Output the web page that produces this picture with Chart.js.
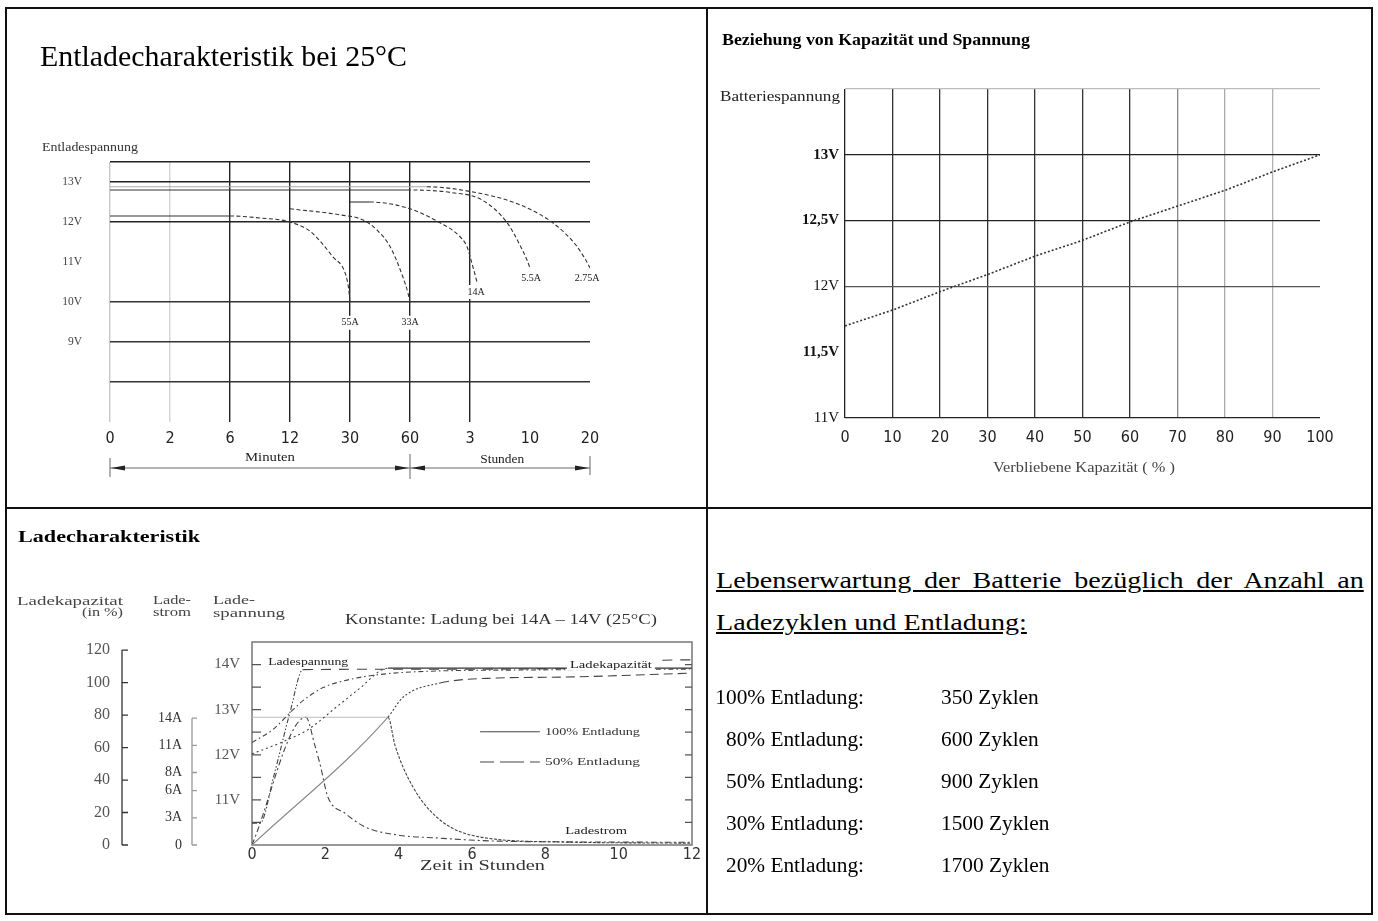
<!DOCTYPE html>
<html>
<head>
<meta charset="utf-8">
<script src="https://cdn.jsdelivr.net/npm/chart.js@4.4.1/dist/chart.umd.min.js"></script>
<style>
body{margin:0;background:#fff;width:1378px;height:921px;position:relative;overflow:hidden;font-family:'Liberation Serif','Times New Roman',serif;color:#000}
.ln{position:absolute;background:#111}
.t{position:absolute;white-space:nowrap;transform-origin:0 0;line-height:1}
canvas{position:absolute}
.hd{position:absolute;left:716px;font-size:24px;line-height:42px;text-decoration:underline;white-space:nowrap;transform-origin:0 0}
.row{position:absolute;font-size:21.33px;line-height:42px;white-space:nowrap}
</style>
</head>
<body>
<!-- table frame -->
<div class="ln" style="left:5px;top:7px;width:1368px;height:2px"></div>
<div class="ln" style="left:5px;top:913px;width:1368px;height:2px"></div>
<div class="ln" style="left:5px;top:7px;width:2px;height:908px"></div>
<div class="ln" style="left:1371px;top:7px;width:2px;height:908px"></div>
<div class="ln" style="left:706px;top:7px;width:2px;height:908px"></div>
<div class="ln" style="left:5px;top:507px;width:1368px;height:2px"></div>

<canvas id="c1" width="697" height="496" style="left:8px;top:10px;width:697px;height:496px"></canvas>
<canvas id="c2" width="660" height="496" style="left:710px;top:10px;width:660px;height:496px"></canvas>
<canvas id="c3" width="697" height="402" style="left:8px;top:510px;width:697px;height:402px"></canvas>

<!-- texts -->
<div class="t" data-w="367" style="left:40px;top:42px;font-size:29px">Entladecharakteristik bei 25°C</div>
<div class="t" data-w="96" style="left:42px;top:141px;font-size:12px;color:#333">Entladespannung</div>

<div class="t" data-w="308" style="left:722px;top:32px;font-size:16px;font-weight:bold">Beziehung von Kapazität und Spannung</div>
<div class="t" data-w="120" style="left:720px;top:89px;font-size:15px;color:#222">Batteriespannung</div>
<div class="t" data-w="182" style="left:993px;top:460px;font-size:15px;color:#444">Verbliebene Kapazität ( % )</div>

<div class="t" data-w="182" style="left:18px;top:529px;font-size:16px;font-weight:bold">Ladecharakteristik</div>
<div class="t" data-w="106" style="left:17px;top:594px;font-size:13px;color:#444">Ladekapazitat</div>
<div class="t" data-w="41" style="left:82px;top:605px;font-size:13px;color:#444">(in %)</div>
<div class="t" data-w="38" style="left:153px;top:593px;font-size:13px;color:#444">Lade-</div>
<div class="t" data-w="38" style="left:153px;top:605px;font-size:13px;color:#444">strom</div>
<div class="t" data-w="42" style="left:213px;top:593px;font-size:13px;color:#444">Lade-</div>
<div class="t" data-w="72" style="left:213px;top:606px;font-size:13px;color:#444">spannung</div>
<div class="t" data-w="312" style="left:345px;top:613px;font-size:14px;color:#333">Konstante: Ladung bei 14A – 14V (25°C)</div>
<div class="t" data-w="125" style="left:420px;top:859px;font-size:14px;color:#333">Zeit in Stunden</div>

<div class="hd" id="hd1" style="top:559px;text-align:justify;text-align-last:justify;white-space:normal">Lebenserwartung der Batterie bezüglich der Anzahl an</div>
<div class="hd" id="hd2" style="top:601px">Ladezyklen und Entladung:</div>
<div id="cycles"></div>

<script>
// ---- Entladecharakteristik (top left): x = tick index, y = volts
const dischargeTimeLabels = ['0', '2', '6', '12', '30', '60', '3', '10', '20'];
const dischargeVoltTicks = [9, 10, 11, 12, 13];
const dischargeVoltLabels = ['9V', '10V', '11V', '12V', '13V'];
const curve55A = [[0, 12.15], [2, 12.15], [2.5, 12.1], [3, 12.0], [3.35, 11.75], [3.72, 11.12], [3.92, 10.72], [3.98, 10.3], [4, 9.98]];
const curve33A = [[3, 12.33], [3.83, 12.18], [4.22, 12.05], [4.45, 11.8], [4.67, 11.38], [4.88, 10.63], [4.97, 10.2], [5, 9.98]];
const curve14A = [[4, 12.5], [4.33, 12.5], [5, 12.33], [5.5, 11.98], [5.8, 11.68], [5.95, 11.38], [6.03, 10.98], [6.12, 10.48]];
const curve5A5 = [[0, 12.8], [4.95, 12.8], [5.67, 12.74], [6.2, 12.55], [6.62, 11.98], [6.83, 11.43], [6.95, 11.05], [7, 10.85]];
const curve2A75 = [[0, 12.88], [5.28, 12.88], [6.05, 12.75], [6.8, 12.45], [7.38, 11.98], [7.75, 11.45], [7.93, 11.05], [8, 10.85]];
const dischargeCurves = [curve55A, curve33A, curve14A, curve5A5, curve2A75];
const dischargeCurveNames = ['55A', '33A', '14A', '5.5A', '2.75A'];

// ---- Beziehung von Kapazitaet und Spannung (top right)
const remainingCapacity = [0, 10, 20, 30, 40, 50, 60, 70, 80, 90, 100];
const restVoltage = [11.70, 11.82, 11.96, 12.09, 12.23, 12.35, 12.49, 12.61, 12.73, 12.87, 13.0];
const restVoltTicks = [11, 11.5, 12, 12.5, 13];
const restVoltLabels = ['11V', '11,5V', '12V', '12,5V', '13V'];
const restVoltBold = [11.5, 12.5, 13];

// ---- Ladecharakteristik (bottom left): x = hours
const chargeVoltTicks = [11, 12, 13, 14];
const chargeVoltLabels = ['11V', '12V', '13V', '14V'];
const chargeCurrentTicks = [0, 3, 6, 8, 11, 14];
const chargeCurrentLabels = ['0', '3A', '6A', '8A', '11A', '14A'];
const chargeCapTicks = [0, 20, 40, 60, 80, 100, 120];
const chargeVolt100 = [[0, 12.02], [0.79, 12.27], [1.53, 12.56], [2.35, 13.09], [2.89, 13.44], [3.71, 13.92], [12, 13.92]];
const chargeVolt50 = [[0, 12.27], [0.57, 12.56], [1.12, 13.0], [1.39, 13.2], [1.94, 13.49], [2.67, 13.67], [3.49, 13.78], [4.77, 13.85], [7.58, 13.88], [11.95, 13.9]];
const chargeCap100 = [[0, 0], [3.71, 78.8], [4.12, 91], [5.13, 99.7], [6.68, 102.8], [8.48, 103.4], [11.95, 105.8]];
const chargeCap50 = [[0, 13.5], [0.22, 13.5], [0.6, 43], [1.04, 82], [1.39, 108], [3.71, 108.2], [8.1, 108.5], [10.9, 112], [11.2, 113.8], [12, 114]];
const chargeCur100 = [[0, 14.1], [3.71, 14.1], [3.9, 11], [4.39, 6.4], [5.13, 2.76], [6.22, 0.88], [8.48, 0.33], [11.95, 0.2]];
const chargeCur50 = [[0, 0], [1.47, 14.1], [1.72, 10.9], [1.85, 9.0], [2.07, 5.3], [2.54, 3.5], [3.08, 2.0], [3.98, 1.1], [5.07, 0.77], [6.5, 0.45], [8.5, 0.35], [12, 0.3]];

// ---- Lebenserwartung (bottom right)
const depthOfDischarge = ['100%', '80%', '50%', '30%', '20%'];
const cycleCounts = [350, 600, 900, 1500, 1700];

Chart.defaults.font.family = "'Liberation Serif', 'Times New Roman', serif";
Chart.defaults.color = '#333';
Chart.defaults.animation = false;
const SANS = "'DejaVu Sans Condensed', 'DejaVu Sans', sans-serif";
const NONE = 'rgba(0,0,0,0)';

const pts = arr => arr.map(([x, y]) => ({x, y}));
const tickList = vals => axis => { axis.ticks = vals.map(v => ({value: v})); };
const labelFrom = (vals, labels) => v => { const i = vals.indexOf(v); return i < 0 ? '' : labels[i]; };
const baseOpts = {
    responsive: false,
    events: [],
    plugins: {legend: {display: false}, tooltip: {enabled: false}}
};

function fitText(ctx, text, x, y, width){
    const w = ctx.measureText(text).width;
    ctx.save();
    ctx.translate(x, y);
    ctx.scale(width / w, 1);
    ctx.fillText(text, 0, 0);
    ctx.restore();
}

function arrowHead(ctx, tipX, y, dir){
    ctx.beginPath();
    ctx.moveTo(tipX, y);
    ctx.lineTo(tipX - dir * 14, y - 2.5);
    ctx.lineTo(tipX - dir * 14, y + 2.5);
    ctx.closePath();
    ctx.fill();
}

// curve labels and the Minuten / Stunden dimension lines
const dischargeLabelSpots = [[4, 9.48], [5, 9.48], [6.1, 10.25], [7.02, 10.6], [7.95, 10.6]];
const dischargeExtras = {
    id: 'dischargeExtras',
    afterDatasetsDraw(chart){
        const {ctx, chartArea, scales: {x, y}} = chart;
        ctx.save();
        ctx.font = '10px "Liberation Serif", serif';
        ctx.textAlign = 'center';
        ctx.textBaseline = 'middle';
        dischargeLabelSpots.forEach(([xv, yv], i) => {
            const name = dischargeCurveNames[i];
            const px = x.getPixelForValue(xv), py = y.getPixelForValue(yv);
            const w = ctx.measureText(name).width;
            ctx.fillStyle = '#fff';
            ctx.fillRect(px - w / 2 - 2, py - 7, w + 4, 14);
            ctx.fillStyle = '#222';
            ctx.fillText(name, px, py);
        });

        const ly = chartArea.bottom + 46;
        const x0 = x.getPixelForValue(0), x5 = x.getPixelForValue(5), x8 = x.getPixelForValue(8);
        ctx.strokeStyle = '#666';
        ctx.lineWidth = 1;
        ctx.beginPath();
        ctx.moveTo(x0, ly); ctx.lineTo(x8, ly);
        ctx.moveTo(x0, ly - 10); ctx.lineTo(x0, ly + 9);
        ctx.moveTo(x5, ly - 14); ctx.lineTo(x5, ly + 11);
        ctx.moveTo(x8, ly - 12); ctx.lineTo(x8, ly + 7);
        ctx.stroke();
        ctx.fillStyle = '#222';
        arrowHead(ctx, x0 + 1, ly, -1);
        arrowHead(ctx, x5 - 1, ly, 1);
        arrowHead(ctx, x5 + 1, ly, -1);
        arrowHead(ctx, x8 - 1, ly, 1);

        ctx.font = '13px "Liberation Serif", serif';
        ctx.textAlign = 'left';
        fitText(ctx, 'Minuten', x.getPixelForValue(2.25), ly - 10, 50);
        fitText(ctx, 'Stunden', x.getPixelForValue(6.17), ly - 8, 44);
        ctx.restore();
    }
};

// 33A starts dashed, the other curves start with a solid flat part
const solidStart = [true, false, true, true, true];

new Chart(document.getElementById('c1'), {
    type: 'scatter',
    data: {
        datasets: dischargeCurves.map((c, i) => ({
            label: dischargeCurveNames[i],
            data: pts(c),
            showLine: true,
            pointRadius: 0,
            borderColor: '#333',
            borderWidth: 1.1,
            cubicInterpolationMode: 'monotone',
            segment: {
                borderDash: s => (solidStart[i] && s.p0DataIndex === 0) ? [] : [4, 2.5],
                borderColor: s => (i === 4 && s.p0DataIndex === 0) ? '#aaa' : undefined
            }
        }))
    },
    options: {
        ...baseOpts,
        layout: {padding: {left: 52, right: 115, top: 152, bottom: 54}},
        scales: {
            x: {
                type: 'linear', min: 0, max: 8,
                afterBuildTicks: tickList(dischargeTimeLabels.map((_, i) => i)),
                afterFit: s => { s.height = 30; },
                border: {display: false},
                grid: {
                    drawTicks: false, lineWidth: 1.4,
                    color: c => ['#c8c8c8', '#d4d4d4', '#222', '#222', '#222', '#222', '#222', NONE, NONE][c.index]
                },
                ticks: {
                    callback: (v, i) => dischargeTimeLabels[i],
                    padding: 7, color: '#222', font: {family: SANS, size: 16},
                    maxRotation: 0, autoSkip: false
                }
            },
            y: {
                type: 'linear', min: 7, max: 13.5,
                afterBuildTicks: tickList([7, 8, 9, 10, 11, 12, 13, 13.5]),
                afterFit: s => { s.width = 50; },
                border: {display: false},
                grid: {
                    drawTicks: false, lineWidth: 1.4,
                    color: c => (c.tick.value === 7 || c.tick.value === 11) ? NONE : (c.tick.value >= 12 ? '#222' : '#333')
                },
                ticks: {
                    callback: labelFrom(dischargeVoltTicks, dischargeVoltLabels),
                    padding: 28, color: '#444', font: {size: 11.5}, autoSkip: false
                }
            }
        }
    },
    plugins: [dischargeExtras]
});

new Chart(document.getElementById('c2'), {
    type: 'scatter',
    data: {
        datasets: [{
            label: 'Batteriespannung',
            data: remainingCapacity.map((c, i) => ({x: c, y: restVoltage[i]})),
            showLine: true,
            pointRadius: 0,
            borderColor: '#333',
            borderWidth: 1.6,
            borderDash: [2, 2]
        }]
    },
    options: {
        ...baseOpts,
        layout: {padding: {left: 75, right: 50, top: 79, bottom: 48}},
        scales: {
            x: {
                type: 'linear', min: 0, max: 100,
                afterBuildTicks: tickList(remainingCapacity),
                afterFit: s => { s.height = 40; },
                border: {display: false},
                grid: {
                    drawTicks: false, lineWidth: 1.3,
                    color: c => ['#222', '#333', '#333', '#333', '#333', '#333', '#333', '#888', '#aaa', '#b4b4b4', NONE][c.index]
                },
                ticks: {padding: 10, color: '#222', font: {family: SANS, size: 16}, maxRotation: 0, autoSkip: false}
            },
            y: {
                type: 'linear', min: 11, max: 13.5,
                afterBuildTicks: tickList([11, 11.5, 12, 12.5, 13, 13.5]),
                afterFit: s => { s.width = 60; },
                border: {display: false},
                grid: {
                    drawTicks: false, lineWidth: 1.3,
                    color: c => ({11: '#222', 11.5: NONE, 12: '#555', 12.5: '#222', 13: '#222', 13.5: '#bbb'})[c.tick.value]
                },
                ticks: {
                    callback: labelFrom(restVoltTicks, restVoltLabels),
                    padding: 6, color: '#111', autoSkip: false,
                    font: c => ({size: 15, weight: restVoltBold.includes(c.tick && c.tick.value) ? 'bold' : 'normal'})
                }
            }
        }
    }
});

// frame, inward ticks, axis lines, notes and legend of the charging chart
const chargeNotes = [['Ladespannung', 0.44, 'yV', 14.04, 80, false], ['Ladekapazität', 8.67, 'yV', 13.98, 82, true], ['Ladestrom', 8.54, 'yI', 1.54, 62, false]];
const chargeExtras = {
    id: 'chargeExtras',
    beforeDatasetsDraw(chart){
        const {ctx, chartArea: a, scales} = chart;
        ctx.save();
        ctx.strokeStyle = '#777';
        ctx.lineWidth = 1.5;
        ctx.strokeRect(a.left, a.top, a.right - a.left, a.bottom - a.top);
        ctx.lineWidth = 1.2;
        ctx.strokeStyle = '#555';
        ctx.beginPath();
        scales.yV.ticks.forEach(t => {
            if (t.value <= 10 || t.value > 14) return;
            const py = scales.yV.getPixelForValue(t.value);
            ctx.moveTo(a.left, py); ctx.lineTo(a.left + 9, py);
            ctx.moveTo(a.right - 7, py); ctx.lineTo(a.right, py);
        });
        ctx.stroke();
        [['yC', '#333', 6], ['yI', '#999', 5]].forEach(([id, col, len]) => {
            const s = scales[id];
            const vals = s.ticks.map(t => t.value);
            ctx.strokeStyle = col;
            ctx.lineWidth = 1.3;
            ctx.beginPath();
            ctx.moveTo(s.right, s.getPixelForValue(vals[0]));
            ctx.lineTo(s.right, s.getPixelForValue(vals[vals.length - 1]));
            vals.forEach(v => {
                const py = s.getPixelForValue(v);
                ctx.moveTo(s.right, py); ctx.lineTo(s.right + len, py);
            });
            ctx.stroke();
        });
        ctx.restore();
    },
    afterDatasetsDraw(chart){
        const {ctx, scales} = chart;
        const x = scales.x;
        ctx.save();
        ctx.textBaseline = 'middle';
        ctx.textAlign = 'left';
        ctx.font = '10px "Liberation Serif", serif';
        chargeNotes.forEach(([text, xv, axis, yv, w, bg]) => {
            const px = x.getPixelForValue(xv), py = scales[axis].getPixelForValue(yv);
            if (bg) { ctx.fillStyle = '#fff'; ctx.fillRect(px - 3, py - 6, w + 6, 11); }
            ctx.fillStyle = '#222';
            fitText(ctx, text, px, py, w);
        });
        ctx.font = '11px "Liberation Serif", serif';
        [['100% Entladung', 12.51, []], ['50% Entladung', 11.84, [14, 6, 24, 6]]].forEach(([text, v, dash]) => {
            const py = scales.yV.getPixelForValue(v);
            ctx.strokeStyle = '#444';
            ctx.lineWidth = 1;
            ctx.setLineDash(dash);
            ctx.beginPath();
            ctx.moveTo(x.getPixelForValue(6.22), py);
            ctx.lineTo(x.getPixelForValue(7.85), py);
            ctx.stroke();
            ctx.setLineDash([]);
            ctx.fillStyle = '#333';
            fitText(ctx, text, x.getPixelForValue(7.99), py, 95);
        });
        ctx.restore();
    }
};

const chargeLine = (label, data, axis, extra) => Object.assign({
    label, data: pts(data), yAxisID: axis, showLine: true, pointRadius: 0,
    borderColor: '#444', borderWidth: 1.1, cubicInterpolationMode: 'monotone'
}, extra);

new Chart(document.getElementById('c3'), {
    type: 'scatter',
    data: {
        datasets: [
            chargeLine('Ladespannung 100%', chargeVolt100, 'yV', {
                segment: {borderDash: s => s.p0DataIndex < 5 ? [2, 3] : [], borderColor: s => s.p0DataIndex < 5 ? undefined : '#333'}
            }),
            chargeLine('Ladespannung 50%', chargeVolt50, 'yV', {borderDash: [5, 3, 1.5, 3]}),
            chargeLine('Ladekapazität 100%', chargeCap100, 'yC', {
                segment: {
                    borderDash: s => s.p0DataIndex === 0 ? [] : (s.p0DataIndex < 3 ? [2, 2] : [9, 5]),
                    borderColor: s => s.p0DataIndex === 0 ? '#888' : undefined
                }
            }),
            chargeLine('Ladekapazität 50%', chargeCap50, 'yC', {
                segment: {borderDash: s => s.p0DataIndex < 4 ? [5, 2, 1.5, 2, 1.5, 2] : [10, 8]}
            }),
            chargeLine('Ladestrom 100%', chargeCur100, 'yI', {
                segment: {
                    borderDash: s => s.p0DataIndex === 0 ? [] : [3, 1.5],
                    borderColor: s => s.p0DataIndex === 0 ? '#bdbdbd' : undefined
                }
            }),
            chargeLine('Ladestrom 50%', chargeCur50, 'yI', {borderDash: [6, 3, 2, 3]})
        ]
    },
    options: {
        ...baseOpts,
        layout: {padding: {left: 64, right: 13, top: 132, bottom: 37}},
        scales: {
            x: {
                type: 'linear', min: 0, max: 12,
                afterFit: s => { s.height = 30; },
                border: {display: false},
                grid: {display: false, drawTicks: false},
                ticks: {stepSize: 2, padding: 0, color: '#333', font: {family: SANS, size: 16}, maxRotation: 0}
            },
            yV: {
                type: 'linear', position: 'left', weight: 0, min: 10, max: 14.5,
                afterFit: s => { s.width = 60; },
                border: {display: false},
                grid: {display: false, drawTicks: false},
                ticks: {stepSize: 0.5, autoSkip: false, padding: 12, color: '#555', font: {size: 15},
                        callback: labelFrom(chargeVoltTicks, chargeVoltLabels)}
            },
            yI: {
                type: 'linear', position: 'left', weight: 1, min: 0, max: 22.4,
                afterBuildTicks: tickList(chargeCurrentTicks),
                afterFit: s => { s.width = 70; },
                border: {display: false},
                grid: {display: false, drawTicks: false},
                ticks: {autoSkip: false, padding: 10, color: '#333', font: {size: 14},
                        callback: labelFrom(chargeCurrentTicks, chargeCurrentLabels)}
            },
            yC: {
                type: 'linear', position: 'left', weight: 2, min: 0, max: 125,
                afterBuildTicks: tickList(chargeCapTicks),
                afterFit: s => { s.width = 50; },
                border: {display: false},
                grid: {display: false, drawTicks: false},
                ticks: {autoSkip: false, padding: 12, color: '#555', font: {size: 16}}
            }
        }
    },
    plugins: [chargeExtras]
});

// life cycle table
const cyclesBox = document.getElementById('cycles');
depthOfDischarge.forEach((d, i) => {
    const top = 676 + 42 * i;
    cyclesBox.insertAdjacentHTML('beforeend',
        `<div class="row" style="left:664px;width:200px;text-align:right;top:${top}px">${d} Entladung:</div>` +
        `<div class="row" style="left:941px;top:${top}px">${cycleCounts[i]} Zyklen</div>`);
});

// the heading of the text cell runs wider than the list below it
const hd1 = document.getElementById('hd1'), hd2 = document.getElementById('hd2');
const k = 311 / hd2.getBoundingClientRect().width;
hd2.style.transform = `scaleX(${k.toFixed(3)})`;
hd1.style.width = (648 / k).toFixed(1) + 'px';
hd1.style.transform = `scaleX(${k.toFixed(3)})`;

// squeeze / stretch free text to the widths seen in the picture
document.querySelectorAll('[data-w]').forEach(el => {
    const w = el.getBoundingClientRect().width;
    el.style.transform = `scaleX(${(+el.dataset.w / w).toFixed(3)})`;
});
</script>
</body>
</html>
